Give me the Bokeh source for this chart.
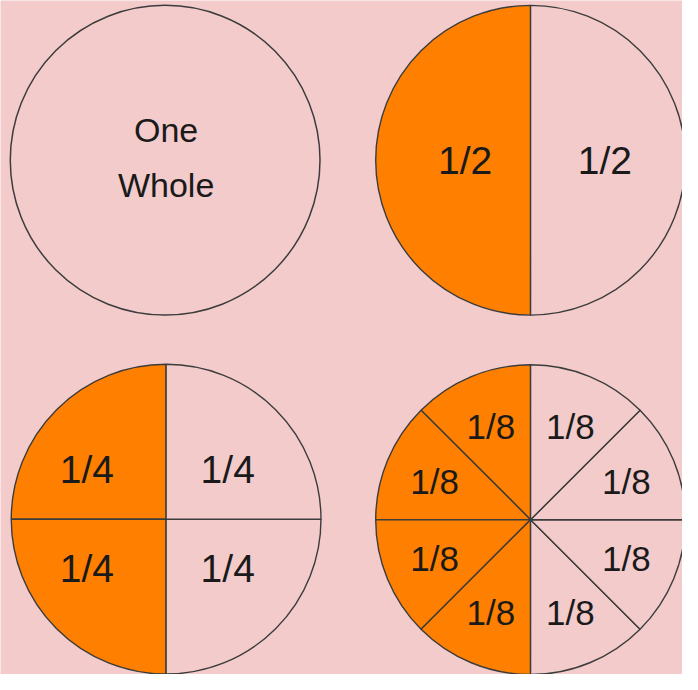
import math
from bokeh.plotting import figure
from bokeh.models import Range1d
from bokeh.embed import file_html
from bokeh.resources import INLINE
from bokeh.core.properties import value

# ---- data ----
denominators = [1, 2, 4, 8]
shaded_parts = [0, 1, 2, 4]
whole_label = "One\nWhole"

# ---- style ----
BG = "#f3cbcb"
ORANGE = "#ff7f00"
EDGE = "#3c3c3c"
FONT = "Liberation Sans"

W, H = 682, 674
p = figure(width=W, height=H, x_range=Range1d(0, 698), y_range=Range1d(0, 690),
           output_backend="svg", toolbar_location=None, min_border=0)
p.axis.visible = False
p.grid.visible = False
p.outline_line_color = None
p.background_fill_color = BG
p.border_fill_color = BG

# layout (reference pixel space, y flipped)
centers = [(168.5, 690 - 163.5), (542.5, 690 - 163.5), (169.5, 690 - 531), (542.5, 690 - 531.5)]
R = 158.5
# label placement factors: (x factor on left side, x factor on right side, y factor)
label_scale = {2: (0.423, 0.48, 0.42), 4: (0.723, 0.5625, 0.455), 8: (0.67, 0.67, 0.65)}
font_size = {1: "34px", 2: "39px", 4: "39px", 8: "35px"}

for (cx, cy), n, k_sh in zip(centers, denominators, shaded_parts):
    if n == 1:
        p.circle(x=[cx], y=[cy], radius=R, fill_color=BG, line_color=EDGE, line_width=1.5)
        p.text(x=[cx + 1], y=[cy + 3], text=[whole_label], text_align="center", text_baseline="middle",
               text_font=value(FONT), text_font_size=font_size[n], text_color="#1a1a1a",
               text_line_height=1.45)
        continue
    step = 2 * math.pi / n
    starts = [math.pi / 2 + i * step for i in range(n)]
    ends = [s + step for s in starts]
    fills = [ORANGE if i < k_sh else BG for i in range(n)]
    p.wedge(x=[cx] * n, y=[cy] * n, radius=R, start_angle=starts, end_angle=ends,
            fill_color=fills, line_color=EDGE, line_width=1.4)
    axl, axr, ay = label_scale[n]
    mids = [s + step / 2 for s in starts]
    lx = [cx + (axl if math.cos(m) < 0 else axr) * R * math.cos(m) for m in mids]
    ly = [cy + ay * R * math.sin(m) for m in mids]
    p.text(x=lx, y=ly, text=[f"1/{n}"] * n, text_align="center", text_baseline="middle",
           text_font=value(FONT), text_font_size=font_size[n], text_color="#1a1a1a")

open("out.html", "w").write(file_html(p, INLINE))
